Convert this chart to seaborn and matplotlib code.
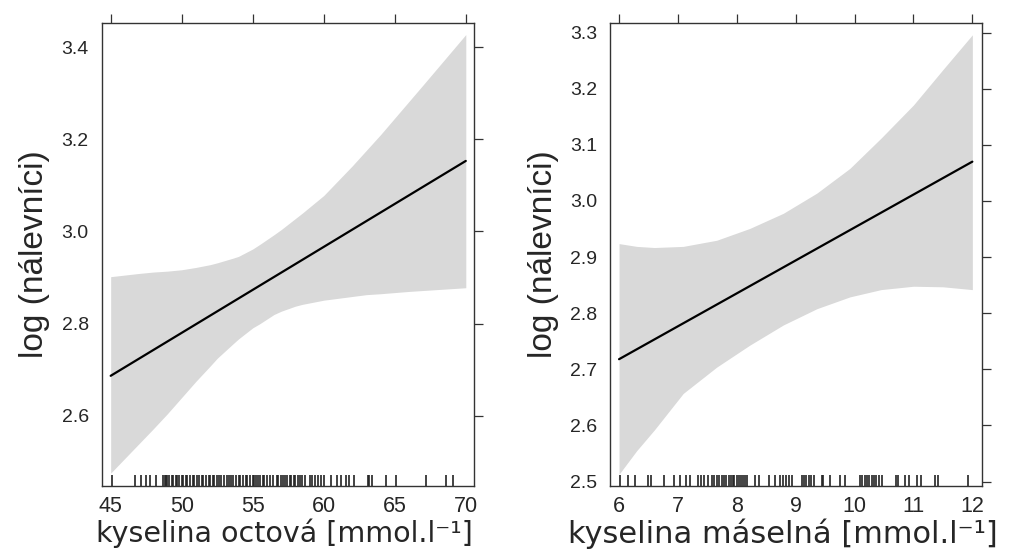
import numpy as np
import matplotlib
matplotlib.use("Agg")
import matplotlib.pyplot as plt
import seaborn as sns
import pandas as pd

# effect of acetic acid (left panel)
octova_x = [45, 47, 48, 49, 50, 51, 52, 52.5, 53.6, 54, 55, 55.5, 56.5, 57, 58, 58.5, 60, 60.5, 62, 63, 64, 66, 67, 70]
octova_upper = [2.902, 2.909, 2.912, 2.914, 2.917, 2.922, 2.928, 2.932, 2.942, 2.946, 2.962, 2.972,
                2.993, 3.004, 3.028, 3.040, 3.078, 3.094, 3.142, 3.176, 3.21, 3.282, 3.318, 3.427]
octova_lower = [2.476, 2.540, 2.572, 2.605, 2.640, 2.675, 2.708, 2.725, 2.756, 2.767, 2.791, 2.800,
                2.820, 2.827, 2.838, 2.842, 2.851, 2.853, 2.859, 2.863, 2.865, 2.870, 2.872, 2.878]
octova_line_x = [45, 70]
octova_line_y = [2.687, 3.153]
octova_rug = [45.1, 46.7, 47.1, 47.5, 47.8, 48.2, 48.7, 48.8, 48.9, 49.0, 49.1, 49.3, 49.4,
              49.6, 49.7, 49.8, 50.0, 50.1, 50.3, 50.4, 50.6, 50.8, 50.9, 51.1, 51.2, 51.4,
              51.5, 51.7, 51.9, 52.0, 52.2, 52.3, 52.5, 52.6, 52.8, 53.0, 53.2, 53.3, 53.5,
              53.6, 53.8, 54.0, 54.1, 54.3, 54.5, 54.6, 54.8, 55.0, 55.1, 55.2, 55.4, 55.5,
              55.7, 55.8, 56.0, 56.2, 56.4, 56.7, 56.8, 57.0, 57.1, 57.3, 57.4, 57.6, 57.7,
              57.9, 58.0, 58.2, 58.3, 58.5, 58.7, 59.0, 59.2, 59.4, 59.6, 59.8, 60.0, 60.5,
              60.9, 61.2, 61.6, 61.8, 62.1, 63.1, 63.2, 63.4, 64.4, 65.1, 67.2, 68.6, 69.1]
octova_yticks = [2.6, 2.8, 3.0, 3.2, 3.4]
octova_xticks = [45, 50, 55, 60, 65, 70]

# effect of butyric acid (right panel)
maselna_x = [6, 6.3, 6.6, 7.09, 7.66, 8.22, 8.79, 9.36, 9.92, 10.45, 11, 11.5, 12]
maselna_upper = [2.924, 2.919, 2.917, 2.919, 2.930, 2.951, 2.978, 3.014, 3.058, 3.112, 3.171, 3.234, 3.296]
maselna_lower = [2.513, 2.555, 2.592, 2.657, 2.704, 2.743, 2.779, 2.808, 2.829, 2.842, 2.848, 2.847, 2.842]
maselna_line_x = [6, 12]
maselna_line_y = [2.718, 3.070]
maselna_rug = [6.02, 6.15, 6.27, 6.50, 6.55, 6.76, 6.93, 7.04, 7.13, 7.21, 7.34, 7.40, 7.45,
               7.51, 7.58, 7.62, 7.66, 7.70, 7.74, 7.78, 7.82, 7.86, 7.90, 7.93, 7.96, 8.00,
               8.03, 8.07, 8.10, 8.14, 8.18, 8.31, 8.37, 8.54, 8.65, 8.74, 8.78, 8.83, 8.88,
               8.93, 9.10, 9.14, 9.18, 9.22, 9.26, 9.31, 9.44, 9.47, 9.58, 9.75, 9.84, 10.09,
               10.13, 10.17, 10.21, 10.25, 10.29, 10.33, 10.37, 10.42, 10.47, 10.71, 10.74,
               10.86, 10.93, 11.06, 11.12, 11.36, 11.41, 11.92]
maselna_yticks = [2.5, 2.6, 2.7, 2.8, 2.9, 3.0, 3.1, 3.2, 3.3]
maselna_xticks = [6, 7, 8, 9, 10, 11, 12]

sns.set_style("white")
plt.rcParams['font.family'] = ['Liberation Sans', 'DejaVu Sans']

fig = plt.figure(figsize=(10.09, 5.54), dpi=100)
ax1 = fig.add_axes([0.1011, 0.1227, 0.3687, 0.8357])
ax2 = fig.add_axes([0.6046, 0.1227, 0.3687, 0.8357])

panels = [
    (ax1, octova_x, octova_upper, octova_lower, octova_line_x, octova_line_y, octova_rug,
     octova_yticks, octova_xticks, (44.39, 70.58), (2.448, 3.452), "kyselina octová", 20.5, 0.49),
    (ax2, maselna_x, maselna_upper, maselna_lower, maselna_line_x, maselna_line_y, maselna_rug,
     maselna_yticks, maselna_xticks, (5.847, 12.165), (2.492, 3.317), "kyselina máselná", 22, 0.465),
]

for ax, bx, up, lo, lx, ly, rug, yt, xt, xlim, ylim, name, xl_size, xl_pos in panels:
    ax.fill_between(bx, lo, up, color="#d9d9d9", linewidth=0)
    line_df = pd.DataFrame({"x": lx, "y": ly})
    sns.lineplot(data=line_df, x="x", y="y", ax=ax, color="black", linewidth=1.6)
    sns.rugplot(x=rug, ax=ax, height=0.024, color="#222222", linewidth=1.2)
    ax.set_xlim(*xlim)
    ax.set_ylim(*ylim)
    ax.set_xticks(xt)
    ax.set_yticks(yt)
    ax.set_yticklabels(["%.1f" % v for v in yt])
    ax.tick_params(axis="both", which="both", direction="out", length=6.5, width=0.9,
                   color="#333333", top=True, right=True, labeltop=False, labelright=False)
    ax.tick_params(axis="y", labelsize=14, pad=3)
    ax.tick_params(axis="x", labelsize=15.5, pad=1)
    for s in ax.spines.values():
        s.set_visible(True)
        s.set_color("#333333")
        s.set_linewidth(1.0)
    ax.set_xlabel(name + " [mmol.l⁻¹]", fontsize=xl_size, family="DejaVu Sans")
    ax.xaxis.set_label_coords(xl_pos, -0.07)
    ax.set_ylabel("log (nálevníci)", fontsize=24, labelpad=8)

fig.savefig("out.png", dpi=100)
